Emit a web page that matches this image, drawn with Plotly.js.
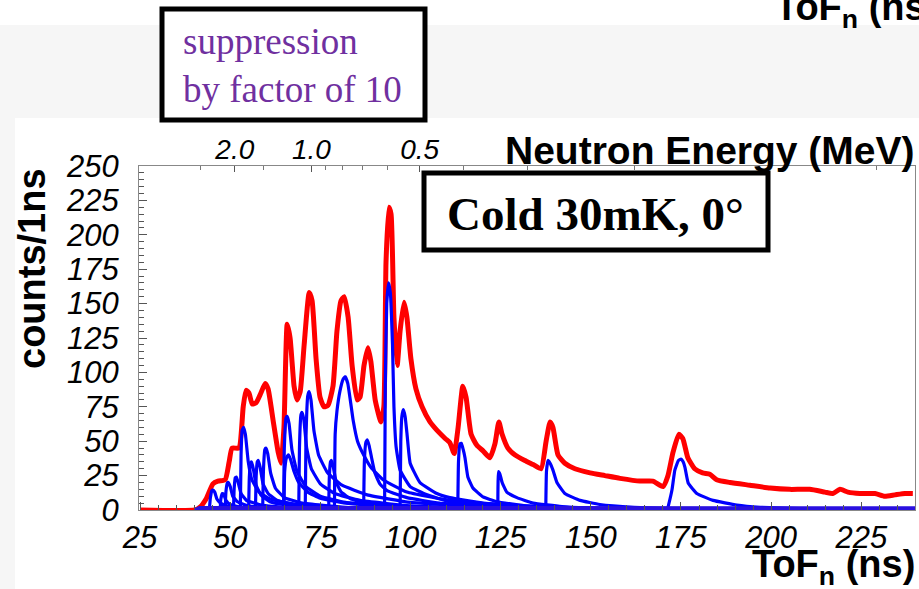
<!DOCTYPE html>
<html><head><meta charset="utf-8">
<script src="https://cdn.plot.ly/plotly-3.0.1.min.js"></script>
<style>html,body{margin:0;padding:0;background:#fff}#chart{width:919px;height:589px}</style>
</head><body><div id="chart"></div>
<script>
// ---- data ----
const redTof = [25,40.2,41.6,43.3,45.2,46.6,48.6,49.7,50.5,52.4,
53.6,54.4,55.2,56.1,57.2,58.5,59.7,60.5,61.9,63.3,
64.1,64.9,65.8,66.6,67.7,68.5,69.4,70.5,71.9,72.7,
73.8,74.9,76.0,77.1,78.5,79.6,80.7,81.6,82.7,83.8,
85.2,86.0,87.1,88.2,89.0,90.2,91.8,92.6,93.2,94.0,
94.6,95.4,96.3,97.1,98.2,99.0,100.1,101.5,103.2,105.4,
107.3,109.6,110.9,112.1,113.2,114.5,115.4,116.8,118.4,120.1,
122.0,123.4,124.5,125.4,127.0,129.0,131.7,134.0,136.2,137.6,
138.7,139.5,140.9,142.8,145.6,149.8,153.9,158.1,163.6,167.2,
170.0,171.4,172.8,174.4,175.5,176.9,178.8,181.0,183.0,184.9,
188.6,194.1,199.7,205.2,210.7,214.9,217.1,219.1,221.3,224.6,
228.8,231.5,234.3,237.1,239.3];
const redCounts = [0,0,2,8,19,21,22,35,45,45,
75,87,85,77,78,85,92,88,65,42,
34,60,135,125,90,80,86,120,158,152,
110,82,75,76,90,130,152,155,140,105,
80,82,105,118,108,80,64,75,180,220,
215,140,105,130,151,140,110,88,75,64,
58,52,49,41,60,90,82,55,47,43,
38,48,64,55,45,40,36,33,30,50,
64,60,40,34,30,27,25,23,21,21,
17,25,42,55,52,38,30,27,26,22,
20,18,16,15,15,13,12,15,13,12,
12,10,11,12,12];

// individual contributions, [ToF, counts] pairs
const blue45 = [[44.2,0],[44.5,9],[44.9,14],[45.2,14.5],[45.7,13],[46.3,8],[47.3,5],[49,3],[53,1.5],[62,0.5],[80,0]];
const blue48 = [[47.2,0],[47.4,8],[47.8,12],[48.2,11.5],[48.8,7],[50,4],[53,2],[60,1],[80,0]];
const blue49 = [[48.6,0],[48.8,13],[49.2,19.5],[49.5,20],[50,17],[50.7,10],[52,6],[55,3],[62,1.5],[80,0.3]];
const blue52 = [[50.9,0],[51.1,16],[51.4,23.5],[51.7,24],[52.2,20],[53,12],[54.5,7],[58,4],[65,2],[85,0.3]];
const blue54 = [[52.8,0],[53,40],[53.3,58],[53.7,60],[54.2,55],[55,35],[56,22],[58,13],[61,8],[66,5],[75,2.5],[95,0.5]];
const blue56 = [[55.1,0],[55.3,24],[55.6,34],[55.9,35],[56.4,30],[57.2,18],[58.5,11],[61,6],[66,3.5],[78,1.2],[100,0.2]];
const blue58 = [[57.0,0],[57.2,25],[57.5,35],[57.8,36],[58.3,31],[59.1,19],[60.5,12],[63,7],[68,4],[80,1.5],[105,0.2]];
const blue60 = [[59.0,0],[59.2,28],[59.6,44],[59.9,45],[60.4,41],[61.2,27],[62.5,16],[65,9],[70,5],[82,2],[110,0.3]];
const blue66a = [[64.8,0],[65,45],[65.5,67],[65.8,68],[66.3,63],[67.1,44],[68.5,28],[71,17],[75,10],[82,5.5],[95,2.5],[120,0.5]];
const blue66b = [[64.9,0],[65.1,28],[65.6,38],[66.1,40],[66.7,37],[67.7,28],[69,20],[71.5,13],[75,8.5],[82,5],[95,2.5],[120,0.5]];
const blue70 = [[69.0,0],[69.2,45],[69.6,69],[69.9,71],[70.4,66],[71.2,45],[72.5,30],[75,19],[79,12],[86,7],[100,3],[130,0.5]];
const blue72 = [[70.8,0],[71,52],[71.5,83],[71.9,86],[72.4,80],[73.2,58],[74.5,40],[77,27],[81,18],[88,11],[100,5.5],[130,1]];
const blue78 = [[77.3,0],[77.5,25],[77.8,35],[78.1,36],[78.6,31],[79.4,20],[80.8,13],[83.5,8],[88,5],[100,2],[125,0.3]];
const blue82 = [[78.9,0],[79.1,55],[79.6,72],[80.4,86],[81.3,95],[81.9,97],[82.6,92],[83.4,78],[84.1,65],[85.3,50],[86.8,41],[89,31],[92.4,22],[99,13],[111,7],[130,3],[160,0.5]];
const blue88 = [[87.0,0],[87.2,35],[87.6,49],[88.0,51],[88.5,47],[89.2,38],[90.1,27],[91.5,19],[93.5,14],[99,9],[108,5],[125,2],[150,0.3]];
const blue94 = [[92.8,0],[93.0,90],[93.4,150],[93.9,165],[94.4,158],[95.0,120],[95.4,75],[96.0,46],[97.1,29],[99.9,17],[104.6,11],[110.9,6],[125,2.5],[150,0.5]];
const blue98 = [[97.1,0],[97.3,50],[97.6,68],[98.0,73],[98.5,68],[99.0,56],[99.9,34],[102.6,20],[107.3,12],[110.9,9],[120,5],[140,1.5],[165,0.3]];
const blue114 = [[113.1,0],[113.3,35],[113.7,48],[114.1,48.5],[114.6,44],[115.1,38],[115.9,24],[117.3,16],[120.1,9.5],[124,6],[132,3],[150,1],[175,0.2]];
const blue125 = [[124.2,0],[124.4,28],[124.8,26],[125.4,20],[126.7,13],[129.5,9],[134,5],[142,2.5],[160,0.7],[180,0.1]];
const blue138 = [[137.5,0],[137.7,28],[138.1,36],[138.7,34],[139.5,29],[140.6,20],[142.8,12],[147,7],[152.5,4],[162,2],[180,0.5]];
const blue175 = [[171.2,0],[171.5,3],[172.5,14.5],[173.3,29],[174.3,36],[175.0,37],[175.6,35],[176.1,31],[177.0,19.6],[179.4,12],[183.9,7],[190.5,3.6],[197,2],[210,0.8],[239,0.2]];
const blueBase = [[40.3,0],[41.5,1.5],[239.9,1.2]];

const tofTickVals = [25,50,75,100,125,150,175,200,225];
const countTickVals = [0,25,50,75,100,125,150,175,200,225,250];
const energyLabelled = [2.0, 1.0, 0.5];
const energyLabels = ['2.0','1.0','0.5'];
const energyMinor = [3.0,1.5,0.9,0.8,0.7,0.6,0.4,0.3,0.2,0.1];
const tofPerSqrtMeV = 72.5; // ToF (ns) = 72.5 / sqrt(E[MeV]) for this flight path

const blueCurves = [blue45,blue48,blue49,blue52,blue54,blue56,blue58,blue60,blue66a,blue66b,
  blue70,blue72,blue78,blue82,blue88,blue94,blue98,blue114,blue125,blue138,blue175];

// ---- build traces ----
const traces = [];
traces.push({x:[25,239.9], y:[0,0], mode:'lines', line:{color:'#ff0000', width:3}, hoverinfo:'skip'});
traces.push({x:redTof, y:redCounts, mode:'lines', line:{color:'#ff0000', width:5, shape:'spline', smoothing:0.5}, hoverinfo:'skip'});
blueCurves.forEach(c => traces.push({x:c.map(p=>p[0]), y:c.map(p=>p[1]), mode:'lines',
  line:{color:'#0000ff', width:3.2, shape:'spline', smoothing:0.35}, hoverinfo:'skip'}));
traces.push({x:blueBase.map(p=>p[0]), y:blueBase.map(p=>p[1]), mode:'lines', line:{color:'#2a10e0', width:4}, hoverinfo:'skip'});
traces.push({x:[25], y:[0], xaxis:'x2', mode:'markers', marker:{opacity:0}, hoverinfo:'skip'});

const W = 919, H = 589, L = 139, R = 4, T = 166, B = 79;
const pw = W-L-R, ph = H-T-B;
const px = v => (v-L)/pw;          // pixel -> paper x
const py = v => (H-B-v)/ph;        // pixel -> paper y

const tickFont = {family:'Liberation Sans, Arial, sans-serif', size:31, color:'#000', style:'italic'};
const bold = sz => ({family:'Liberation Sans, Arial, sans-serif', size:sz, color:'#000', weight:'bold'});

const layout = {
  width:W, height:H, margin:{l:L, r:R, t:T, b:B, pad:0},
  paper_bgcolor:'#ffffff', plot_bgcolor:'#ffffff', showlegend:false,
  xaxis:{range:[24.7,239.9], tickmode:'array', tickvals:tofTickVals, ticks:'inside', ticklen:8, tickcolor:'#555', tickwidth:1,
    minor:{dtick:5, tick0:25, ticks:'inside', ticklen:5, tickcolor:'#555', showgrid:false},
    showgrid:false, zeroline:false, showline:true, mirror:true, linecolor:'#888', linewidth:1,
    tickfont:tickFont, ticklabelstandoff:0, fixedrange:true},
  xaxis2:{overlaying:'x', side:'top', anchor:'y', range:[24.7,239.9], tickmode:'array',
    tickvals:energyLabelled.map(e=>tofPerSqrtMeV/Math.sqrt(e)), ticktext:energyLabels,
    ticks:'inside', ticklen:6, tickcolor:'#555',
    minor:{tickmode:'array', tickvals:energyMinor.map(e=>tofPerSqrtMeV/Math.sqrt(e)), ticks:'inside', ticklen:4, tickcolor:'#777'},
    showgrid:false, zeroline:false, showline:false,
    tickfont:{family:'Liberation Sans, Arial, sans-serif', size:28, color:'#000', style:'italic'}, ticklabelstandoff:0, fixedrange:true},
  yaxis:{range:[0,250], tickmode:'array', tickvals:countTickVals, ticks:'inside', ticklen:8, tickcolor:'#555', tickwidth:1,
    minor:{dtick:5, tick0:0, ticks:'inside', ticklen:5, tickcolor:'#555', showgrid:false},
    showgrid:false, zeroline:false, showline:true, mirror:true, linecolor:'#888', linewidth:1,
    tickfont:tickFont, ticklabelstandoff:13, fixedrange:true},
  shapes:[
    {type:'rect', xref:'paper', yref:'paper', x0:px(0), x1:px(919), y0:py(118), y1:py(25), fillcolor:'#f6f6f6', line:{width:0}, layer:'below'},
    {type:'rect', xref:'paper', yref:'paper', x0:px(0), x1:px(15), y0:py(589), y1:py(118), fillcolor:'#f6f6f6', line:{width:0}, layer:'below'},
    {type:'rect', xref:'paper', yref:'paper', x0:px(162), x1:px(425), y0:py(120), y1:py(9), fillcolor:'#fff', line:{color:'#000', width:5}},
    {type:'rect', xref:'paper', yref:'paper', x0:px(424), x1:px(768), y0:py(250), y1:py(173), fillcolor:'#fff', line:{color:'#000', width:5}}
  ],
  annotations:[
    {text:'counts/1ns', xref:'paper', yref:'paper', x:px(32), y:py(268), xanchor:'center', yanchor:'middle', textangle:-90, showarrow:false, font:bold(38)},
    {text:'Neutron Energy (MeV)', xref:'paper', yref:'paper', x:px(917), y:py(151), xanchor:'right', yanchor:'middle', showarrow:false, font:bold(39)},
    {text:'ToF<sub>n</sub> (ns)', xref:'paper', yref:'paper', x:px(917), y:py(541), xanchor:'right', yanchor:'top', showarrow:false, font:bold(38)},
    {text:'ToF<sub>n</sub> (ns)', xref:'paper', yref:'paper', x:px(773), y:py(-16), xanchor:'left', yanchor:'top', showarrow:false, font:bold(38)},
    {text:'suppression<br>by factor of 10', xref:'paper', yref:'paper', x:px(181), y:py(19), xanchor:'left', yanchor:'top', align:'left', showarrow:false,
      font:{family:'Liberation Serif, Times New Roman, serif', size:37, color:'#7030a0'}},
    {text:'Cold 30mK, 0°', xref:'paper', yref:'paper', x:px(595), y:py(214), xanchor:'center', yanchor:'middle', showarrow:false,
      font:{family:'Liberation Serif, Times New Roman, serif', size:47, color:'#000', weight:'bold'}}
  ]
};

Plotly.newPlot('chart', traces, layout, {staticPlot:true, displayModeBar:false});
</script>
</body></html>
